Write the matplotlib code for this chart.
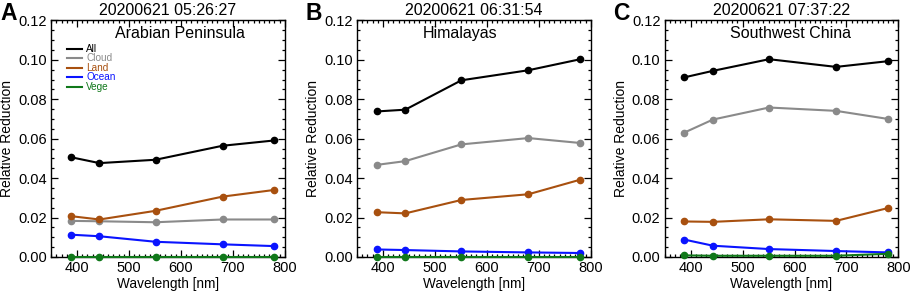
import matplotlib
matplotlib.use("Agg")
import matplotlib.pyplot as plt
from matplotlib.ticker import MultipleLocator, FormatStrFormatter

plt.rcParams['font.family'] = ['Liberation Sans', 'DejaVu Sans']

wavelength = [388, 443, 551, 680, 780]
series_names = ["All", "Cloud", "Land", "Ocean", "Vege"]
series_colors = ["#000000", "#8a8a8a", "#a8500f", "#0a14ff", "#10781a"]

panel_letters = ["A", "B", "C"]
panel_times = ["20200621 05:26:27", "20200621 06:31:54", "20200621 07:37:22"]
panel_regions = ["Arabian Peninsula", "Himalayas", "Southwest China"]

a_all = [0.0506, 0.0476, 0.0493, 0.0564, 0.0591]
a_cloud = [0.0183, 0.0181, 0.0176, 0.0190, 0.0190]
a_land = [0.0207, 0.0190, 0.0234, 0.0306, 0.0340]
a_ocean = [0.0113, 0.0105, 0.0077, 0.0064, 0.0055]
a_vege = [0.0001, 0.0001, 0.0001, 0.0001, 0.0001]

b_all = [0.0738, 0.0747, 0.0896, 0.0947, 0.1003]
b_cloud = [0.0467, 0.0486, 0.0571, 0.0603, 0.0578]
b_land = [0.0227, 0.0221, 0.0289, 0.0318, 0.0392]
b_ocean = [0.0038, 0.0035, 0.0028, 0.0023, 0.0020]
b_vege = [0.0002, 0.0002, 0.0002, 0.0002, 0.0002]

c_all = [0.0911, 0.0944, 0.1003, 0.0964, 0.0993]
c_cloud = [0.0631, 0.0697, 0.0758, 0.0741, 0.0700]
c_land = [0.0180, 0.0178, 0.0191, 0.0183, 0.0248]
c_ocean = [0.0088, 0.0057, 0.0040, 0.0030, 0.0023]
c_vege = [0.0008, 0.0006, 0.0006, 0.0006, 0.0016]

panels = [
    [a_all, a_cloud, a_land, a_ocean, a_vege],
    [b_all, b_cloud, b_land, b_ocean, b_vege],
    [c_all, c_cloud, c_land, c_ocean, c_vege],
]

fig = plt.figure(figsize=(9.13, 2.91), dpi=100)
lefts = [0.056, 0.391, 0.728]
width = 0.256
bottom = 0.117
height = 0.813
region_x = [0.55, 0.44, 0.54]

for i in range(3):
    ax = fig.add_axes([lefts[i], bottom, width, height])
    for vals, name, col in zip(panels[i], series_names, series_colors):
        ax.plot(wavelength, vals, '-o', color=col, lw=1.5, ms=4.5, clip_on=False, zorder=3)
    ax.set_xlim(350, 800)
    ax.set_ylim(0, 0.12)
    ax.xaxis.set_major_locator(MultipleLocator(100))
    ax.xaxis.set_minor_locator(MultipleLocator(10))
    ax.yaxis.set_major_locator(MultipleLocator(0.02))
    ax.yaxis.set_minor_locator(MultipleLocator(0.005))
    ax.yaxis.set_major_formatter(FormatStrFormatter('%.2f'))
    ax.tick_params(which='both', direction='in', top=True, right=True, labelsize=10.5, width=0.9)
    ax.tick_params(which='major', length=5, pad=3)
    ax.tick_params(which='minor', length=2.5)
    for s in ax.spines.values():
        s.set_linewidth(1.0)
    ax.set_xlabel("Wavelength [nm]", fontsize=9.8, labelpad=1)
    ax.set_ylabel("Relative Reduction", fontsize=10, labelpad=3)
    ax.set_title(panel_times[i], fontsize=11.5, pad=4)
    ax.text(region_x[i], 0.945, panel_regions[i], transform=ax.transAxes, fontsize=11.5,
            ha='center', va='center')
    fig.text(lefts[i] - 0.056, 0.953, panel_letters[i], fontsize=16.5, fontweight='bold', ha='left', va='center')
    if i == 0:
        y0 = 0.88
        for k, (name, col) in enumerate(zip(series_names, series_colors)):
            yy = y0 - k * 0.04
            ax.plot([0.07, 0.13], [yy, yy], transform=ax.transAxes, color=col, lw=1.5, clip_on=False)
            ax.text(0.15, yy, name, transform=ax.transAxes, color=col, fontsize=7.2, va='center', ha='left')

fig.savefig("out.png", dpi=100)
